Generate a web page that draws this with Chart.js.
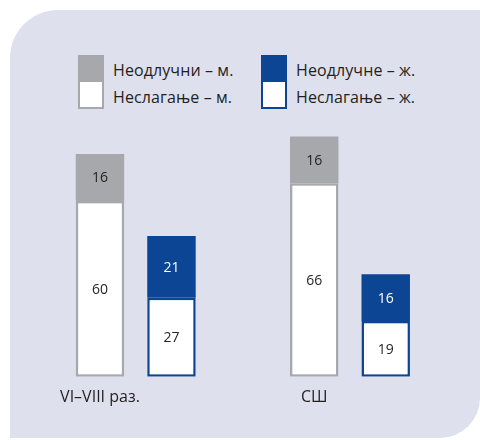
<!DOCTYPE html>
<html>
<head>
<meta charset="utf-8">
<script src="https://cdn.jsdelivr.net/npm/chart.js@4/dist/chart.umd.min.js"></script>
<style>
  html, body { margin: 0; padding: 0; background: #ffffff; }
  #wrap { position: relative; width: 480px; height: 440px; overflow: hidden; font-family: "Open Sans", sans-serif; color: #231f20; }
  #panel { position: absolute; left: 10px; top: 10px; width: 470px; height: 428px; background: #dfe0ee; border-radius: 48px 0 40px 0; }
  #chart { position: absolute; left: 0; top: 0; }
  .sw { position: absolute; width: 26px; height: 54px; box-sizing: border-box; }
  .sw .top { height: 27px; }
  .sw .bot { height: 27px; box-sizing: border-box; background: #fff; border: 2.5px solid; border-top: none; }
  .lt { position: absolute; font-size: 16px; line-height: 16px; white-space: nowrap; letter-spacing: 0.1px; }
</style>
</head>
<body>
<div id="wrap">
  <div id="panel"></div>
  <div id="legend"></div>
  <canvas id="chart" width="480" height="440"></canvas>
</div>
<script>
// ---- data ----
const categories = ["VI–VIII раз.", "СШ"];
const undecidedMale = [16, 16];
const disagreeMale = [60, 66];
const undecidedFemale = [21, 16];
const disagreeFemale = [27, 19];
const seriesNames = ["Неодлучни – м.", "Неслагање – м.", "Неодлучне – ж.", "Неслагање – ж."];

const GRAY = "#a7a8ab";
const BLUE = "#0c4594";
const TEXT = "#231f20";

// ---- HTML legend ----
(function () {
  const lg = document.getElementById("legend");
  const groups = [
    { x: 78, color: GRAY, names: [seriesNames[0], seriesNames[1]] },
    { x: 261, color: BLUE, names: [seriesNames[2], seriesNames[3]] }
  ];
  groups.forEach(g => {
    const sw = document.createElement("div");
    sw.className = "sw";
    sw.style.left = g.x + "px";
    sw.style.top = "55px";
    sw.innerHTML = '<div class="top" style="background:' + g.color + '"></div><div class="bot" style="border-color:' + g.color + '"></div>';
    lg.appendChild(sw);
    g.names.forEach((n, i) => {
      const t = document.createElement("div");
      t.className = "lt";
      t.textContent = n;
      t.style.left = (g.x + 35) + "px";
      t.style.top = (62 + i * 27) + "px";
      lg.appendChild(t);
    });
  });
})();

// ---- value labels plugin ----
const valueLabels = {
  id: "valueLabels",
  afterDatasetsDraw(chart) {
    const ctx = chart.ctx;
    ctx.save();
    ctx.font = "14px 'Open Sans', sans-serif";
    ctx.textAlign = "center";
    ctx.textBaseline = "middle";
    chart.data.datasets.forEach((ds, di) => {
      const meta = chart.getDatasetMeta(di);
      meta.data.forEach((el, i) => {
        const v = ds.data[i];
        if (v == null) return;
        const p = el.getCenterPoint();
        ctx.fillStyle = ds.labelColor;
        ctx.fillText(String(v), p.x, p.y + 1);
      });
    });
    ctx.restore();
  }
};

new Chart(document.getElementById("chart"), {
  type: "bar",
  data: {
    labels: categories,
    datasets: [
      { label: seriesNames[1], data: disagreeMale, stack: "m", backgroundColor: "#ffffff", borderColor: GRAY, borderWidth: 2.5, borderSkipped: false, labelColor: TEXT },
      { label: seriesNames[0], data: undecidedMale, stack: "m", backgroundColor: GRAY, borderWidth: 0, labelColor: TEXT },
      { label: seriesNames[3], data: disagreeFemale, stack: "f", backgroundColor: "#ffffff", borderColor: BLUE, borderWidth: 2.5, borderSkipped: false, labelColor: TEXT },
      { label: seriesNames[2], data: undecidedFemale, stack: "f", backgroundColor: BLUE, borderWidth: 0, labelColor: "#ffffff" }
    ]
  },
  options: {
    responsive: false,
    animation: false,
    layout: { padding: { left: 28.6, right: 22.9, top: 113, bottom: 22 } },
    datasets: { bar: { categoryPercentage: 0.6674, barPercentage: 0.678 } },
    plugins: { legend: { display: false }, tooltip: { enabled: false } },
    scales: {
      x: {
        stacked: true,
        grid: { display: false, drawTicks: false },
        border: { display: false },
        ticks: { padding: 11, labelOffset: -35.75, color: TEXT, font: { family: "'Open Sans', sans-serif", size: 16 } }
      },
      y: { stacked: true, display: false, min: 0, max: 90 }
    }
  },
  plugins: [valueLabels]
});
</script>
</body>
</html>
